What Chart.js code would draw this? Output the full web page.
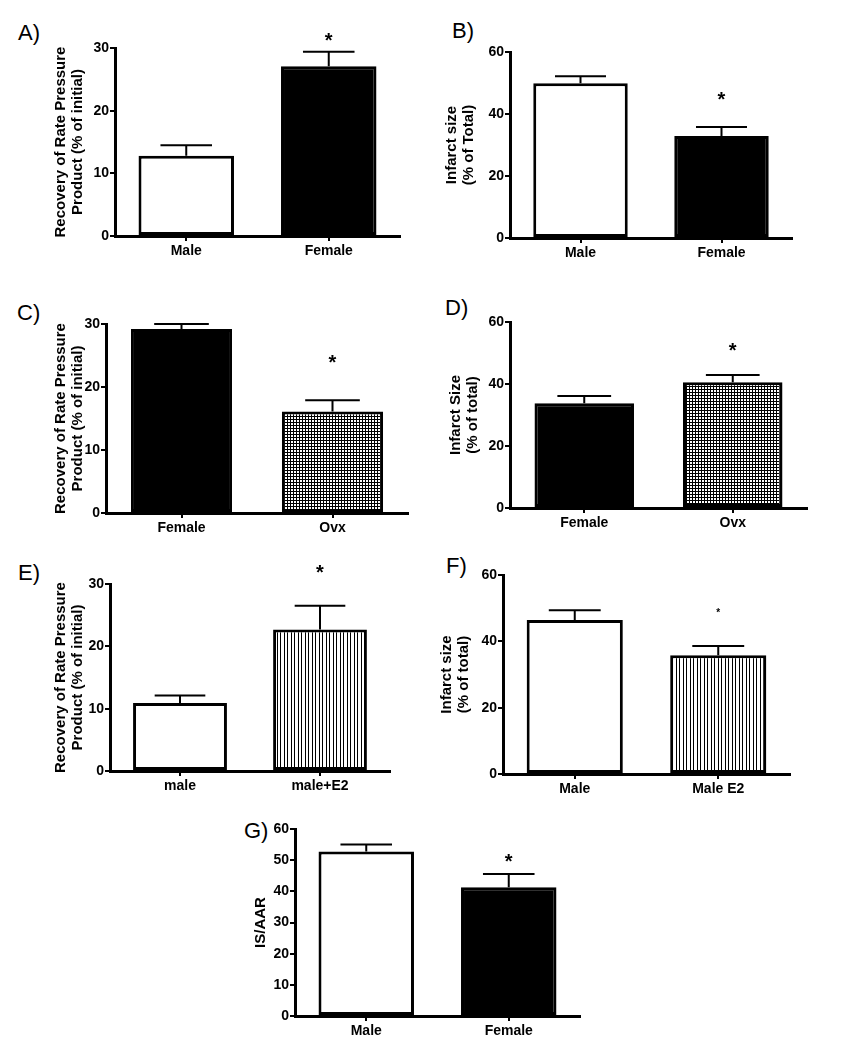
<!DOCTYPE html>
<html>
<head>
<meta charset="utf-8">
<script src="https://cdn.jsdelivr.net/npm/chart.js@4.4.1/dist/chart.umd.min.js"></script>
<style>
  body { margin: 0; background: #fff; width: 841px; height: 1050px; position: relative; overflow: hidden; font-family: "Liberation Sans", Arial, sans-serif; }
  canvas { position: absolute; }
  .lbl { position: absolute; font-size: 22px; line-height: 22px; color: #000; }
</style>
</head>
<body>
<div class="lbl" style="left:18px;top:22px">A)</div>
<div class="lbl" style="left:452px;top:20px">B)</div>
<div class="lbl" style="left:17px;top:302px">C)</div>
<div class="lbl" style="left:445px;top:297px">D)</div>
<div class="lbl" style="left:18px;top:562px">E)</div>
<div class="lbl" style="left:446px;top:555px">F)</div>
<div class="lbl" style="left:244px;top:820px">G)</div>
<script>
// values (mean, SEM, star height in axis units)
const catA = ['Male', 'Female'];
const meanA = [12.8, 27.1];
const semA = [1.7, 2.3];
const starA = [null, 32.0];

const catB = ['Male', 'Female'];
const meanB = [49.9, 32.9];
const semB = [2.3, 2.9];
const starB = [null, 46.1];

const catC = ['Female', 'Ovx'];
const meanC = [29.2, 16.1];
const semC = [0.8, 1.8];
const starC = [null, 24.6];

const catD = ['Female', 'Ovx'];
const meanD = [33.8, 40.6];
const semD = [2.3, 2.3];
const starD = [null, 52.3];

const catE = ['male', 'male+E2'];
const meanE = [10.9, 22.7];
const semE = [1.2, 3.8];
const starE = [null, 32.6];

const catF = ['Male', 'Male E2'];
const meanF = [46.4, 35.8];
const semF = [3.0, 2.8];
const starF = [null, 49.4];

const catG = ['Male', 'Female'];
const meanG = [52.8, 41.3];
const semG = [2.2, 4.3];
const starG = [null, 51.0];

const FONT = '"Liberation Sans", Arial, sans-serif';
Chart.defaults.font.family = FONT;

// fill patterns
function makePattern(w, h, draw) {
  const t = document.createElement('canvas');
  t.width = w; t.height = h;
  const c = t.getContext('2d');
  draw(c);
  return c.createPattern(t, 'repeat');
}
const gridFill = makePattern(3, 3, c => {
  c.fillStyle = '#000'; c.fillRect(0, 0, 3, 3);
  c.fillStyle = '#fff'; c.fillRect(0, 0, 2, 2);
});
const stripeFill = makePattern(7, 3, c => {
  c.fillStyle = '#fff'; c.fillRect(0, 0, 7, 3);
  c.fillStyle = '#000'; c.fillRect(0, 0, 1, 3); c.fillRect(4, 0, 1, 3);
});

// error bars + significance stars
const errPlugin = {
  id: 'errBars',
  afterDatasetsDraw(chart, args, opts) {
    const ctx = chart.ctx;
    const ys = chart.scales.y;
    const bars = chart.getDatasetMeta(0).data;
    ctx.save();
    ctx.strokeStyle = '#000';
    ctx.fillStyle = '#000';
    ctx.lineWidth = 2;
    bars.forEach((b, i) => {
      const top = ys.getPixelForValue(opts.means[i] + opts.sem[i]);
      const half = b.width * 0.27;
      ctx.beginPath();
      ctx.moveTo(b.x, b.y);
      ctx.lineTo(b.x, top);
      ctx.moveTo(b.x - half, top);
      ctx.lineTo(b.x + half, top);
      ctx.stroke();
      if (opts.stars[i] != null) {
        ctx.font = 'bold ' + opts.starSize + 'px ' + FONT;
        ctx.textAlign = 'center';
        ctx.textBaseline = 'alphabetic';
        ctx.fillText('*', b.x, ys.getPixelForValue(opts.stars[i]) + opts.starSize * 0.57);
      }
    });
    ctx.restore();
  }
};

function makePanel(p) {
  const cv = document.createElement('canvas');
  cv.width = p.box.w; cv.height = p.box.h;
  cv.style.left = p.box.x + 'px';
  cv.style.top = p.box.y + 'px';
  document.body.appendChild(cv);
  const a = p.area;
  const tickFont = { family: FONT, size: 14, weight: 'bold' };
  new Chart(cv, {
    type: 'bar',
    data: {
      labels: p.cats,
      datasets: [{
        data: p.means,
        backgroundColor: p.fills,
        borderColor: '#000',
        borderWidth: 3,
        borderSkipped: false,
        barPercentage: 0.67,
        categoryPercentage: 1
      }]
    },
    options: {
      responsive: false,
      animation: false,
      layout: { padding: { left: 0, top: a.t - p.box.y, right: p.box.x + p.box.w - a.r, bottom: 0 } },
      plugins: {
        legend: { display: false },
        tooltip: { enabled: false },
        errBars: { means: p.means, sem: p.sem, stars: p.stars, starSize: p.starSize || 20 }
      },
      scales: {
        x: {
          grid: { offset: false, drawOnChartArea: false, tickLength: 5, color: '#000', lineWidth: 2 },
          border: { color: '#000', width: 3 },
          ticks: { color: '#000', font: tickFont, padding: 2, maxRotation: 0 },
          afterFit(s) { s.height = p.box.y + p.box.h - a.b; }
        },
        y: {
          min: 0,
          max: p.yMax,
          ticks: { stepSize: p.step, color: '#000', font: tickFont, padding: 1 },
          grid: { drawOnChartArea: false, tickLength: 5, color: '#000', lineWidth: 2 },
          border: { color: '#000', width: 3 },
          title: {
            display: true,
            text: p.title,
            color: '#000',
            font: { family: FONT, size: 15, weight: 'bold', lineHeight: 1.1 },
            padding: { top: p.titleX - p.box.x - 8.25, bottom: 0 }
          },
          afterFit(s) { s.width = a.l - p.box.x; }
        }
      }
    },
    plugins: [errPlugin]
  });
}

const rppTitle = ['Recovery of Rate Pressure', 'Product (% of initial)'];

makePanel({ box: { x: 0, y: 0, w: 420, h: 270 }, area: { l: 115, t: 48, r: 400, b: 236 },
  cats: catA, means: meanA, sem: semA, stars: starA, fills: ['#fff', '#000'],
  yMax: 30, step: 10, title: rppTitle, titleX: 61 });

makePanel({ box: { x: 420, y: 0, w: 421, h: 270 }, area: { l: 510, t: 52, r: 792, b: 238 },
  cats: catB, means: meanB, sem: semB, stars: starB, fills: ['#fff', '#000'],
  yMax: 60, step: 20, title: ['Infarct size', '(% of Total)'], titleX: 452 });

makePanel({ box: { x: 0, y: 270, w: 420, h: 275 }, area: { l: 106, t: 324, r: 408, b: 513 },
  cats: catC, means: meanC, sem: semC, stars: starC, fills: ['#000', gridFill],
  yMax: 30, step: 10, title: rppTitle, titleX: 61 });

makePanel({ box: { x: 420, y: 270, w: 421, h: 275 }, area: { l: 510, t: 322, r: 807, b: 508 },
  cats: catD, means: meanD, sem: semD, stars: starD, fills: ['#000', gridFill],
  yMax: 60, step: 20, title: ['Infarct Size', '(% of total)'], titleX: 456 });

makePanel({ box: { x: 0, y: 540, w: 420, h: 265 }, area: { l: 110, t: 584, r: 390, b: 771 },
  cats: catE, means: meanE, sem: semE, stars: starE, fills: ['#fff', stripeFill],
  yMax: 30, step: 10, title: rppTitle, titleX: 61 });

makePanel({ box: { x: 420, y: 540, w: 421, h: 265 }, area: { l: 503, t: 575, r: 790, b: 774 },
  cats: catF, means: meanF, sem: semF, stars: starF, fills: ['#fff', stripeFill], starSize: 10,
  yMax: 60, step: 20, title: ['Infarct size', '(% of total)'], titleX: 447 });

makePanel({ box: { x: 200, y: 800, w: 420, h: 250 }, area: { l: 295, t: 829, r: 580, b: 1016 },
  cats: catG, means: meanG, sem: semG, stars: starG, fills: ['#fff', '#000'],
  yMax: 60, step: 10, title: 'IS/AAR', titleX: 261 });
</script>
</body>
</html>
